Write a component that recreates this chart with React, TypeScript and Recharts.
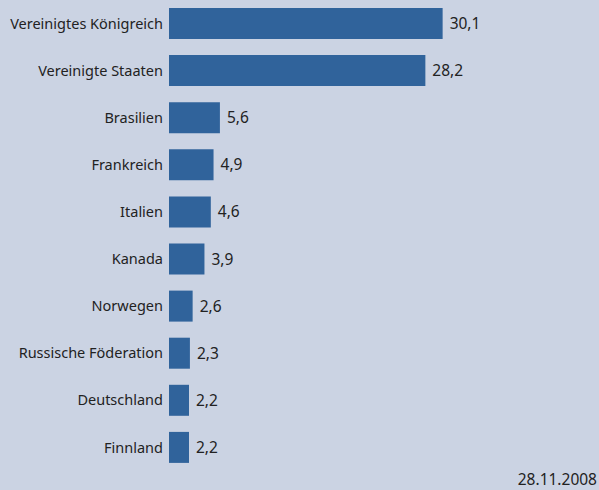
import { BarChart, Bar, XAxis, YAxis, LabelList } from "recharts"

const countries = [
  "Vereinigtes Königreich",
  "Vereinigte Staaten",
  "Brasilien",
  "Frankreich",
  "Italien",
  "Kanada",
  "Norwegen",
  "Russische Föderation",
  "Deutschland",
  "Finnland",
]

const values = [30.1, 28.2, 5.6, 4.9, 4.6, 3.9, 2.6, 2.3, 2.2, 2.2]

const dateLabel = "28.11.2008"

const BG = "#cbd3e3"
const BAR = "#30639b"
const FONT = "'Noto Sans', 'Open Sans', sans-serif"

export default function App() {
  const data = countries.map((name, i) => ({ name, value: values[i] }))

  return (
    <div style={{ position: "absolute", left: 0, top: 0, width: 599, height: 490, background: BG, fontFamily: FONT }}>
      <BarChart
        width={599}
        height={490}
        data={data}
        layout="vertical"
        margin={{ top: 0, right: 130, bottom: 19, left: 0 }}
        barSize={31}
      >
        <XAxis type="number" domain={[0, 33]} hide />
        <YAxis
          type="category"
          dataKey="name"
          width={169}
          axisLine={false}
          tickLine={false}
          tickSize={0}
          tickMargin={6}
          interval={0}
          tick={{ fill: "#222", fontSize: 14.5, fontFamily: FONT }}
        />
        <Bar dataKey="value" fill={BAR} isAnimationActive={false}>
          <LabelList
            dataKey="value"
            position="right"
            offset={7}
            formatter={(v: any) => String(v).replace(".", ",")}
            style={{ fill: "#222", fontSize: 15.5, fontFamily: FONT }}
          />
        </Bar>
      </BarChart>
      <div style={{ position: "absolute", right: 2, top: 469, fontSize: 15.5, color: "#222", lineHeight: "20px" }}>
        {dateLabel}
      </div>
    </div>
  )
}
